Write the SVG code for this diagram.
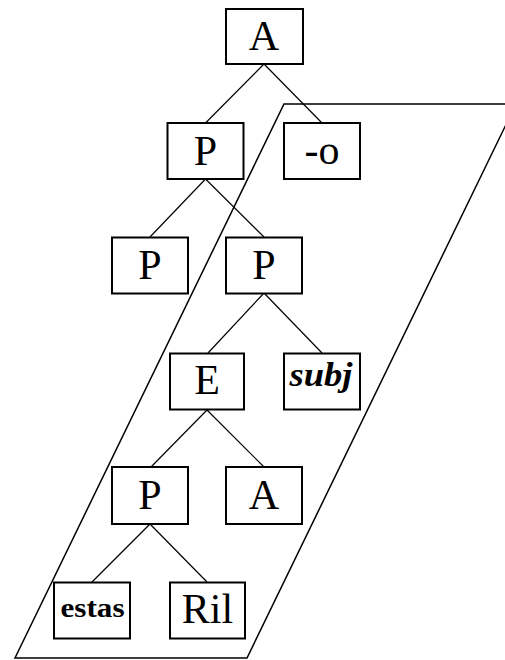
<svg xmlns="http://www.w3.org/2000/svg" width="505" height="660" viewBox="0 0 505 660">
<style>
.box{fill:#fff;stroke:#000;stroke-width:2}
.t{font-family:'Liberation Serif','Times New Roman',serif;font-size:42px;text-anchor:middle;fill:#000}
.c{stroke:#000;stroke-width:1.2;fill:none}
</style>
<rect width="505" height="660" fill="#fff"/>
<g id="connectors">
<line class="c" x1="264" y1="64" x2="205.5" y2="123"/>
<line class="c" x1="264" y1="64" x2="322" y2="123"/>
<line class="c" x1="205.5" y1="179" x2="150" y2="237"/>
<line class="c" x1="205.5" y1="179" x2="264" y2="237"/>
<line class="c" x1="264" y1="293" x2="208" y2="353"/>
<line class="c" x1="264" y1="293" x2="322" y2="353"/>
<line class="c" x1="207" y1="410" x2="151" y2="467"/>
<line class="c" x1="207" y1="410" x2="264" y2="467"/>
<line class="c" x1="150" y1="524" x2="92" y2="582"/>
<line class="c" x1="150" y1="524" x2="207" y2="582"/>
</g>
<g id="region">
<polygon points="284,104 516,104 247,658 15,658" fill="none" stroke="#000" stroke-width="1.5"/>
</g>
<g id="n_A"><rect class="box" x="226" y="9" width="77" height="55"/><text class="t" x="264" y="49.5">A</text></g>
<g id="n_P1"><rect class="box" x="167.5" y="123" width="76" height="56"/><text class="t" x="205.5" y="164.5">P</text></g>
<g id="n_o"><rect class="box" x="284" y="123" width="76" height="56"/><text class="t" x="322" y="164">-o</text></g>
<g id="n_P2L"><rect class="box" x="112" y="237.5" width="76" height="56"/><text class="t" x="150" y="278.5">P</text></g>
<g id="n_P2R"><rect class="box" x="226" y="237.5" width="76" height="56"/><text class="t" x="264" y="278.5">P</text></g>
<g id="n_E"><rect class="box" x="170" y="353.5" width="74" height="56"/><text class="t" x="207" y="394">E</text></g>
<g id="n_subj"><rect class="box" x="284" y="353.5" width="76" height="56"/><text class="t" x="321" y="386" style="font-size:34px;font-weight:bold;font-style:italic" textLength="63" lengthAdjust="spacingAndGlyphs">subj</text></g>
<g id="n_P3"><rect class="box" x="112" y="467" width="76" height="57"/><text class="t" x="150" y="509">P</text></g>
<g id="n_A2"><rect class="box" x="226" y="467" width="76" height="57"/><text class="t" x="264" y="509">A</text></g>
<g id="n_estas"><rect class="box" x="54" y="582.5" width="76" height="56"/><text class="t" x="92.5" y="617" style="font-size:28px;font-weight:bold" textLength="64" lengthAdjust="spacingAndGlyphs">estas</text></g>
<g id="n_Ril"><rect class="box" x="170" y="582.5" width="75" height="56"/><text class="t" x="207.5" y="622.5">Ril</text></g>
</svg>
